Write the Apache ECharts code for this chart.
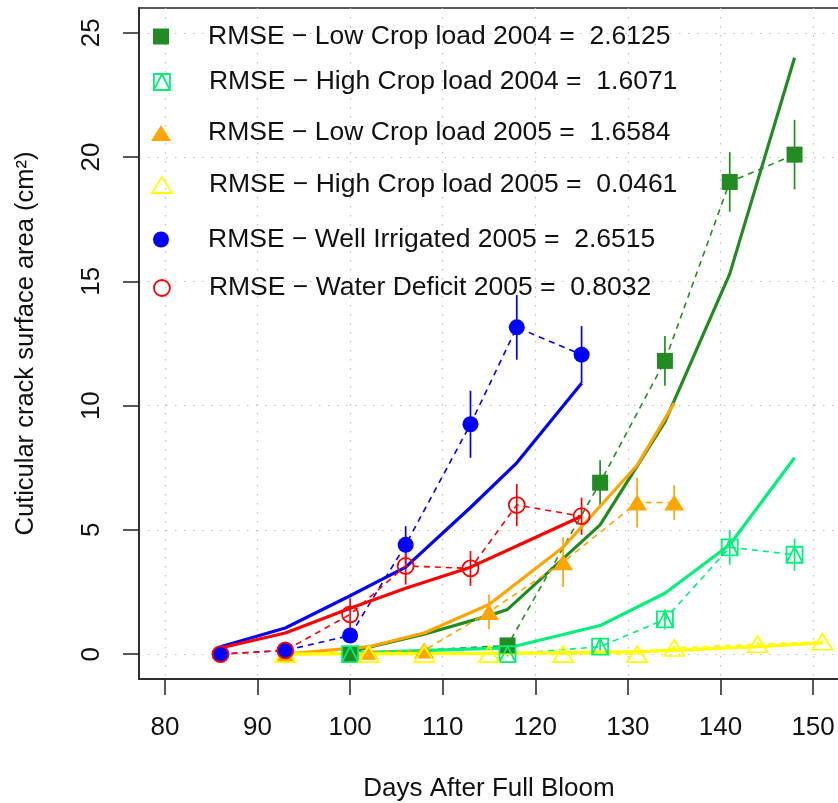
<!DOCTYPE html>
<html>
<head>
<meta charset="utf-8">
<script src="https://cdn.jsdelivr.net/npm/echarts@6/dist/echarts.min.js"></script>
<style>
html,body{margin:0;padding:0;background:#fff;}
#chart{width:838px;height:803px;}
</style>
</head>
<body>
<div id="chart"></div>
<script>
// ---------- data ----------
const xTickVals = [80, 90, 100, 110, 120, 130, 140, 150];
const yTickVals = [0, 5, 10, 15, 20, 25];

const legendNames = [
  'RMSE \u2212 Low Crop load 2004 =  2.6125',
  'RMSE \u2212 High Crop load 2004 =  1.6071',
  'RMSE \u2212 Low Crop load 2005 =  1.6584',
  'RMSE \u2212 High Crop load 2005 =  0.0461',
  'RMSE \u2212 Well Irrigated 2005 =  2.6515',
  'RMSE \u2212 Water Deficit 2005 =  0.8032'
];

// Low crop load 2004
const lc04Days = [100, 117, 127, 134, 141, 148];
const lc04Obs = [0, 0.35, 6.9, 11.8, 19.0, 20.1];
const lc04Err = [0.1, 0.3, 0.9, 1.0, 1.2, 1.4];
const lc04ModelDays = [100, 108, 115, 117, 127, 134, 141, 148];
const lc04Model = [0.1, 0.8, 1.55, 1.8, 5.2, 9.35, 15.3, 24.0];

// High crop load 2004
const hc04Days = [100, 117, 127, 134, 141, 148];
const hc04Obs = [0, 0, 0.3, 1.4, 4.3, 4.0];
const hc04Err = [0, 0.1, 0.3, 0.4, 0.7, 0.65];
const hc04ModelDays = [100, 117, 127, 134, 141, 148];
const hc04Model = [0.05, 0.25, 1.15, 2.45, 4.4, 7.9];

// Low crop load 2005
const lc05Days = [93, 102, 108, 115, 123, 131, 135];
const lc05Obs = [0, 0.1, 0.15, 1.7, 3.7, 6.1, 6.1];
const lc05Err = [0, 0.1, 0.2, 0.7, 1.0, 1.0, 0.7];
const lc05Model = [0, 0.3, 0.85, 2.0, 4.3, 7.6, 10.1];

// High crop load 2005
const hc05Days = [93, 102, 108, 115, 123, 131, 135, 144, 151];
const hc05Obs = [0, 0, 0, 0, 0, 0, 0.25, 0.4, 0.5];
const hc05Err = [0, 0, 0, 0, 0, 0, 0.1, 0.1, 0.1];
const hc05Model = [0, 0.01, 0.02, 0.03, 0.06, 0.1, 0.15, 0.3, 0.45];

// Well irrigated 2005
const wiDays = [86, 93, 100, 106, 113, 118, 125];
const wiObs = [0, 0.15, 0.75, 4.4, 9.25, 13.15, 12.05];
const wiErr = [0, 0, 0.2, 0.75, 1.35, 1.3, 1.15];
const wiModel = [0.3, 1.05, 2.35, 3.5, 5.9, 7.7, 10.9];

// Water deficit 2005
const wdDays = [86, 93, 100, 106, 113, 118, 125];
const wdObs = [0, 0.15, 1.6, 3.55, 3.45, 6.0, 5.55];
const wdErr = [0, 0, 0.65, 0.75, 0.7, 0.85, 0.75];
const wdModel = [0.25, 0.85, 1.85, 2.65, 3.5, 4.35, 5.55];

// ---------- styles ----------
const C = {
  lc04: '#228B22', hc04: '#00F07A', lc05: '#FFA500',
  hc05: '#FFFF00', wi: '#0000FF', wd: '#FF0000'
};
const FONT = '"Liberation Sans", Arial, Helvetica, sans-serif';
const SQUARE = 'path://M0,0L16,0L16,16L0,16Z';
const SQTRI = 'path://M0,0L16,0L16,16L0,16Z M0,16L8,0L16,16';
const TRI = 'path://M10,0L20,16L0,16Z';
const CIRC = 'path://M0,8A8,8,0,1,1,16,8A8,8,0,1,1,0,8Z';
const CLEAR = 'rgba(0,0,0,0)';

const zip = (xs, ys) => xs.map((x, i) => [x, ys[i]]);
const zip3 = (xs, ys, es) => xs.map((x, i) => [x, ys[i], es[i]]);

function dashed(id, days, vals, color) {
  return {
    type: 'line', name: 'obs-' + id, data: zip(days, vals),
    showSymbol: false, symbol: 'none', silent: true,
    lineStyle: { color: color, width: 1.6, type: [6, 5] }, z: 3
  };
}
function model(id, days, vals, color) {
  return {
    type: 'line', name: 'model-' + id, data: zip(days, vals),
    showSymbol: false, symbol: 'none', silent: true,
    lineStyle: { color: color, width: 3.2 }, z: 3
  };
}
function errBars(id, days, vals, errs, color) {
  return {
    type: 'custom', name: 'err-' + id, data: zip3(days, vals, errs),
    encode: { x: 0, y: 1 }, silent: true, z: 3,
    renderItem: function (params, api) {
      const x = api.value(0), y = api.value(1), e = api.value(2);
      if (!e) return null;
      const p1 = api.coord([x, y - e]), p2 = api.coord([x, y + e]);
      return { type: 'line', shape: { x1: p1[0], y1: p1[1], x2: p2[0], y2: p2[1] },
               style: { stroke: color, lineWidth: 1.7 } };
    }
  };
}
function points(name, days, vals, symbol, size, fill, stroke) {
  return {
    type: 'scatter', name: name, data: zip(days, vals),
    symbol: symbol, symbolSize: size, silent: true, z: 4,
    itemStyle: { color: fill, borderColor: stroke, opacity: 1,
                 borderWidth: fill === CLEAR ? 1.8 : 0 }
  };
}

const series = [
  dashed('lc04', lc04Days, lc04Obs, C.lc04),
  errBars('lc04', lc04Days, lc04Obs, lc04Err, C.lc04),
  points(legendNames[0], lc04Days, lc04Obs, SQUARE, 16, C.lc04, C.lc04),
  model('lc04', lc04ModelDays, lc04Model, C.lc04),

  dashed('hc04', hc04Days, hc04Obs, C.hc04),
  errBars('hc04', hc04Days, hc04Obs, hc04Err, C.hc04),
  points(legendNames[1], hc04Days, hc04Obs, SQTRI, 16, CLEAR, C.hc04),
  model('hc04', hc04ModelDays, hc04Model, C.hc04),

  dashed('lc05', lc05Days, lc05Obs, C.lc05),
  errBars('lc05', lc05Days, lc05Obs, lc05Err, C.lc05),
  points(legendNames[2], lc05Days, lc05Obs, TRI, [20, 16], C.lc05, C.lc05),
  model('lc05', lc05Days, lc05Model, C.lc05),

  dashed('hc05', hc05Days, hc05Obs, C.hc05),
  errBars('hc05', hc05Days, hc05Obs, hc05Err, C.hc05),
  points(legendNames[3], hc05Days, hc05Obs, TRI, [20, 16], CLEAR, C.hc05),
  model('hc05', hc05Days, hc05Model, C.hc05),

  dashed('wi', wiDays, wiObs, C.wi),
  errBars('wi', wiDays, wiObs, wiErr, C.wi),
  points(legendNames[4], wiDays, wiObs, CIRC, 16, C.wi, C.wi),
  model('wi', wiDays, wiModel, C.wi),

  dashed('wd', wdDays, wdObs, C.wd),
  errBars('wd', wdDays, wdObs, wdErr, C.wd),
  points(legendNames[5], wdDays, wdObs, CIRC, 16, CLEAR, C.wd),
  model('wd', wdDays, wdModel, C.wd)
];

// legend rows (one legend per row to match spacing)
const legendRowCenters = [31, 76.5, 127.5, 179.5, 234, 282.5];
const legendIcons = [SQUARE, SQTRI, TRI, TRI, CIRC, CIRC];
const legendIconW = [16, 16, 20, 20, 16, 16];
const legendFill = [C.lc04, CLEAR, C.lc05, CLEAR, C.wi, CLEAR];
const legendStroke = [C.lc04, C.hc04, C.lc05, C.hc05, C.wi, C.wd];
const legends = legendNames.map((n, i) => ({
  left: 161 - legendIconW[i] / 2, top: legendRowCenters[i] - 8, padding: 0,
  itemWidth: 84, itemHeight: 16, selectedMode: false,
  textStyle: { fontSize: 26.5, color: '#111', fontFamily: FONT, lineHeight: 16 },
  data: [{
    name: n, icon: legendIcons[i],
    itemStyle: { color: legendFill[i], borderColor: legendStroke[i],
                 borderWidth: legendFill[i] === CLEAR ? 1.8 : 0 }
  }]
}));

const axisCommon = {
  type: 'value',
  axisLine: { show: true, onZero: false, lineStyle: { color: '#222', width: 1.5 } },
  axisTick: { show: true, inside: false, length: 16, lineStyle: { color: '#222', width: 1.5 } },
  splitLine: { show: true, lineStyle: { color: '#bdbdbd', width: 1.2, type: [1.5, 7.5] } }
};

const option = {
  animation: false,
  backgroundColor: '#fff',
  grid: { left: 139, right: -1, top: 8, bottom: 124, show: true,
          outerBoundsMode: 'none', containLabel: false,
          borderColor: '#222', borderWidth: 1.5, backgroundColor: 'transparent' },
  legend: legends,
  xAxis: Object.assign({}, axisCommon, {
    min: 77.2, max: 152.8,
    axisTick: Object.assign({}, axisCommon.axisTick, { customValues: xTickVals }),
    axisLabel: { customValues: xTickVals, fontSize: 26, color: '#111', fontFamily: FONT, margin: 35.5 },
    name: 'Days After Full Bloom', nameLocation: 'middle', nameGap: 96.5,
    nameTextStyle: { fontSize: 26, color: '#111', fontFamily: FONT }
  }),
  yAxis: Object.assign({}, axisCommon, {
    min: -1, max: 26,
    axisTick: Object.assign({}, axisCommon.axisTick, { customValues: yTickVals }),
    axisLabel: { customValues: yTickVals, fontSize: 26, color: '#111', fontFamily: FONT, margin: 34, rotate: 90 },
    name: 'Cuticular crack surface area (cm\u00B2)', nameLocation: 'middle', nameGap: 100,
    nameTextStyle: { fontSize: 25.5, color: '#111', fontFamily: FONT }
  }),
  series: series
};

const chart = echarts.init(document.getElementById('chart'), null, { renderer: 'canvas' });
chart.setOption(option);
</script>
</body>
</html>
